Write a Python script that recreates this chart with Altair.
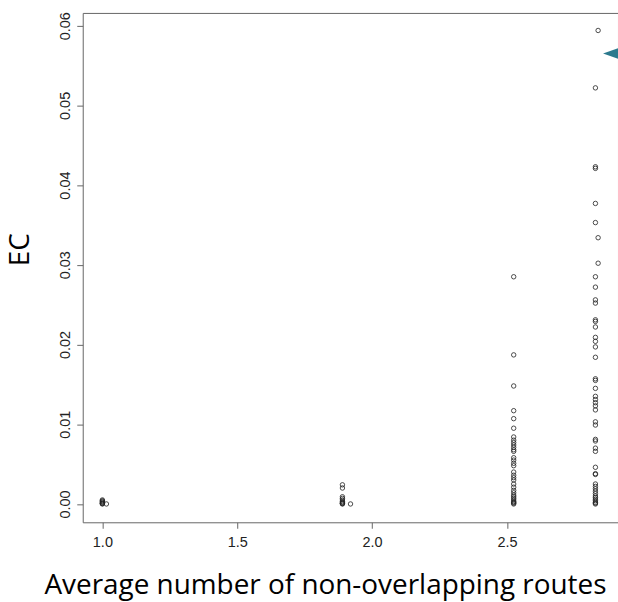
import altair as alt
import pandas as pd

# Column x positions (average number of non-overlapping routes)
x_c1 = 1.0
x_c1b = 1.015
x_c2 = 1.89
x_c2b = 1.92
x_c3 = 2.525
x_c4 = 2.828
x_c4b = 2.838

ec_c1 = [0.0005, 0.0004, 0.0003, 0.0002, 0.0001, 0.00005, 0.0]
ec_c1b = [0.0]
ec_c2 = [0.0024, 0.0020, 0.0009, 0.0007, 0.0005, 0.0003, 0.0002, 0.0001, 0.00005, 0.0]
ec_c2b = [0.0]
ec_c3 = [0.0285, 0.0187, 0.0148, 0.0117, 0.0107, 0.0095, 0.0084, 0.0080, 0.0077,
         0.0074, 0.0071, 0.0068, 0.0066, 0.0058, 0.0055, 0.0051, 0.0048, 0.0040,
         0.0036, 0.0033, 0.0030, 0.0025, 0.0021, 0.0017, 0.0014, 0.0011, 0.0009,
         0.0007, 0.0005, 0.0003, 0.0002, 0.0001, 0.0]
ec_c4 = [0.0522, 0.0423, 0.0421, 0.0377, 0.0353, 0.0285, 0.0272, 0.0256, 0.0252,
         0.0231, 0.0229, 0.0222, 0.0209, 0.0204, 0.0197, 0.0184, 0.0157, 0.0155,
         0.0145, 0.0135, 0.0131, 0.0127, 0.0123, 0.0118, 0.0103, 0.0099, 0.0081,
         0.0079, 0.0070, 0.0066, 0.0046, 0.0038, 0.0037, 0.0025, 0.0022, 0.0019,
         0.0016, 0.0013, 0.0010, 0.0008, 0.0006, 0.0004, 0.0002, 0.0001, 0.0]
ec_c4b = [0.0594, 0.0334, 0.0302]

marker_x = [2.9117]
marker_y = [0.0565]

x_ticks = [1.0, 1.5, 2.0, 2.5]
y_ticks = [0.0, 0.01, 0.02, 0.03, 0.04, 0.05, 0.06]

rows = []
for xv, ys in [(x_c1, ec_c1), (x_c1b, ec_c1b), (x_c2, ec_c2), (x_c2b, ec_c2b),
               (x_c3, ec_c3), (x_c4, ec_c4), (x_c4b, ec_c4b)]:
    for yv in ys:
        rows.append({"x": xv, "y": yv})
df = pd.DataFrame(rows)
dm = pd.DataFrame({"x": marker_x, "y": marker_y})

xscale = alt.Scale(domain=[0.9272, 2.9117], nice=False, zero=False)
yscale = alt.Scale(domain=[-0.0023, 0.0616], nice=False, zero=False)

xaxis = alt.Axis(values=x_ticks, format=".1f", grid=False, domain=False,
                 tickSize=6, tickColor="#666666", tickWidth=1,
                 labelFont="Liberation Sans", labelFontSize=14.5, labelColor="#222222",
                 labelPadding=7, labelBaseline="top",
                 title="Average number of non-overlapping routes",
                 titleFont="Open Sans", titleFontSize=28, titleFontWeight="normal",
                 titleColor="#000000", titleX=243, titleY=71,
                 titleAlign="center", titleBaseline="alphabetic")
yaxis = alt.Axis(values=y_ticks, format=".2f", grid=False, domain=False,
                 tickSize=6, tickColor="#666666", tickWidth=1,
                 labelFont="Liberation Sans", labelFontSize=14.5, labelColor="#222222",
                 labelAngle=270, labelAlign="center", labelBaseline="alphabetic",
                 labelPadding=7,
                 title="EC", titleFont="Open Sans", titleFontSize=28,
                 titleFontWeight="normal", titleColor="#000000",
                 titleAngle=270, titleX=-62, titleY=237,
                 titleAlign="center", titleBaseline="middle")

points = alt.Chart(df).mark_point(
    shape="circle", filled=False, size=20, stroke="#222222", strokeWidth=0.8, opacity=1
).encode(
    x=alt.X("x:Q", scale=xscale, axis=xaxis),
    y=alt.Y("y:Q", scale=yscale, axis=yaxis),
)

marker = alt.Chart(dm).mark_point(
    shape="M-1,0 L1,-0.7 L1,0.7 Z", filled=True, size=900,
    fill="#2C7A8E", strokeWidth=0, opacity=1
).encode(
    x=alt.X("x:Q", scale=xscale),
    y=alt.Y("y:Q", scale=yscale),
)

chart = alt.layer(points, marker).properties(
    width=537, height=511,
    autosize=alt.AutoSizeParams(type="none"),
    padding={"left": 83, "top": 12, "right": 0, "bottom": 79},
    background="white",
).configure_view(stroke="#666666", strokeWidth=1)

chart.save("out.html", embed_options={"renderer": "svg", "actions": False})
